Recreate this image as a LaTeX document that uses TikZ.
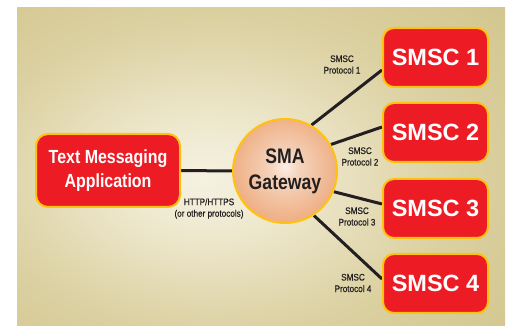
\documentclass[tikz,border=0pt]{standalone}
\usepackage{fontspec}
\setmainfont{Liberation Sans}
\newfontfamily\narrowfam[FakeStretch=0.84]{Liberation Sans}
\newfontfamily\labfam[FakeStretch=0.86,FakeBold=0.5]{Liberation Sans}
\definecolor{bgC}{HTML}{F5F2E2}
\definecolor{bgA}{HTML}{EFE9D0}
\definecolor{bgM}{HTML}{DBD0A0}
\definecolor{bgO}{HTML}{CCBE82}
\definecolor{bgE}{HTML}{C7B979}
\definecolor{gwIn}{HTML}{FBEEE5}
\definecolor{gwA}{HTML}{F5D3BB}
\definecolor{gwMid}{HTML}{EEAC80}
\definecolor{gwOut}{HTML}{E4884F}
\definecolor{boxred}{HTML}{ED1C24}
\definecolor{boxyellow}{HTML}{FFC20E}
\definecolor{linec}{HTML}{231F20}
\pgfdeclareradialshading{bgshade}{\pgfpoint{-6bp}{-2bp}}{color(0bp)=(bgC); color(8bp)=(bgA); color(25bp)=(bgM); color(50bp)=(bgO); color(100bp)=(bgE)}
\pgfdeclareradialshading{gwshade}{\pgfpoint{0bp}{2bp}}{color(0bp)=(gwIn); color(7bp)=(gwA); color(27bp)=(gwMid); color(50bp)=(gwOut); color(60bp)=(gwOut)}
\pgfdeclarelayer{bglayer}
\pgfsetlayers{bglayer,main}
\newcommand\mylabfont{\labfam\fontsize{9.5}{11.5}\selectfont}
\tikzset{
  redbox/.style={draw=boxyellow, line width=2pt, fill=boxred, rounded corners=11pt, text=white, inner sep=0pt},
  smscbox/.style={redbox, minimum width=105pt, minimum height=59pt, font=\bfseries\fontsize{23.5}{28}\selectfont},
  link/.style={draw=linec, line width=3pt},
  plabel/.style={font=\mylabfont, text=linec, align=center, inner sep=0pt},
}
\begin{document}
\begin{tikzpicture}[x=1pt,y=-1pt]
\useasboundingbox (0,0) rectangle (507,326);
\node[redbox, rounded corners=12pt, minimum width=144pt, minimum height=73pt, align=center,
      font=\narrowfam\bfseries\fontsize{19}{24}\selectfont] (app) at (108,170.5) {Text Messaging\\Application};
\node[circle, draw=boxyellow, line width=2pt, shading=gwshade, minimum size=104pt, inner sep=0pt,
      align=center, text=linec, font=\narrowfam\bfseries\fontsize{21}{26}\selectfont] (gw) at (285,171) {SMA\\Gateway};
\node[smscbox] (s1) at (435.5,57.5) {SMSC 1};
\node[smscbox] (s2) at (435.5,132.5) {SMSC 2};
\node[smscbox] (s3) at (435.5,208.5) {SMSC 3};
\node[smscbox] (s4) at (435.5,283.5) {SMSC 4};
\begin{pgfonlayer}{bglayer}
\shade[shading=bgshade] (17,8) rectangle (505,326);
\draw[link] (app.east) -- (gw.west);
\draw[link] (gw.60) -- ([yshift=-12.5pt]s1.west);
\draw[link] (gw.30) -- ([yshift=5.5pt]s2.west);
\draw[link] (gw.-23) -- ([yshift=4.5pt]s3.west);
\draw[link] (gw.-57) -- ([yshift=4.5pt]s4.west);
\end{pgfonlayer}
\node[plabel] (l1) at (342,64.5) {SMSC\\Protocol 1};
\node[plabel] (l2) at (360,156.5) {SMSC\\Protocol 2};
\node[plabel] (l3) at (357,216.5) {SMSC\\Protocol 3};
\node[plabel] (l4) at (353,283) {SMSC\\Protocol 4};
\node[plabel] (lh) at (209,208.5) {HTTP/HTTPS\\(or other protocols)};
\end{tikzpicture}
\end{document}
